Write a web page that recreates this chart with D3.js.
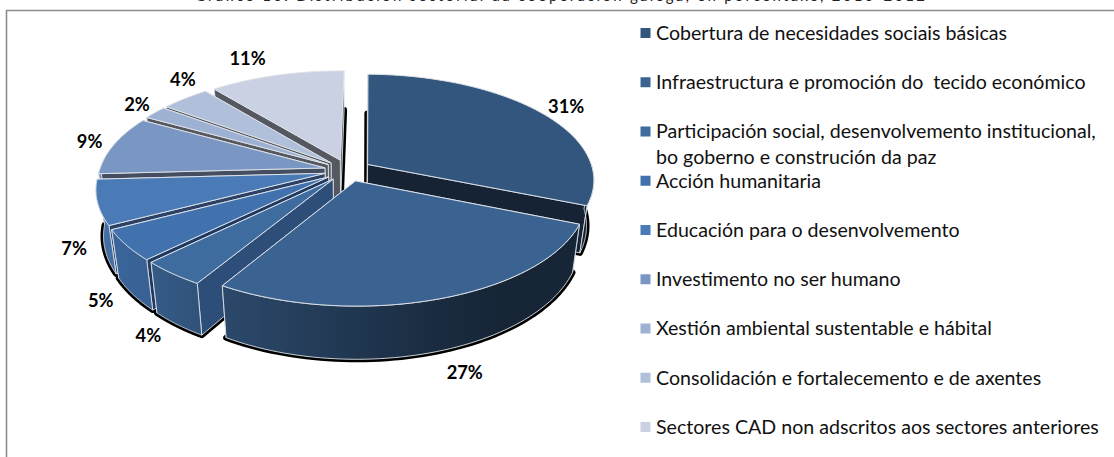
<!DOCTYPE html>
<html><head><meta charset="utf-8">
<script src="https://cdnjs.cloudflare.com/ajax/libs/d3/7.8.5/d3.min.js"></script>
<style>html,body{margin:0;padding:0;background:#fff;overflow:hidden}svg{display:block}</style>
</head><body><svg id="c" width="1114" height="457"></svg>
<script>
const categories = [
  "Cobertura de necesidades sociais básicas",
  "Infraestructura e promoción do\u00a0 tecido económico",
  "Participación social, desenvolvemento institucional,|bo goberno e construción da paz",
  "Acción humanitaria",
  "Educación para o desenvolvemento",
  "Investimento no ser humano",
  "Xestión ambiental sustentable e hábital",
  "Consolidación e fortalecemento e de axentes",
  "Sectores CAD non adscritos aos sectores anteriores"
];
const values = [31, 27.4, 4, 4.7, 6.8, 9, 2, 4, 11.1];
const topColors = ["#33567f","#3b6391","#3f6c9f","#4272ae","#4a7bb7","#7a97c3","#9db1d3","#b0c0da","#c9d1e2"];
const wallColors = ["#152335","#2e4d73","#2d4e78","#1f3a60","#2b4266","#444e60","#565860","#565860","#555860"];
const titleText = "Gráfico 10. Distribución sectorial da cooperación galega, en porcentaxe, 2010-2012";
const labelNudge = [[-5,4],[18,12],[-11,5],[-10,3],[-7,1],[17,1],[14,1],[24,-7],[-18,-2]];

const svg = d3.select("#c");
const W = 1114, H = 457;
const cx = 348, cy = 170.4, a = 225.5, b = 104.4, k = 0.14, depth = 45, taper = 0.03, explode = 0.105, rot = 0.8*Math.PI/180;
const xS = d3.scaleLinear().domain([-1,1]).range([cx-a,cx+a]);
const yS = d3.scaleLinear().domain([-1,1]).range([cy-b,cy+b]);
const proj = (X,Y,z=0) => { const s = 1/(1-k*Y); return [xS(X*s*(1-taper*z)), yS(Y*s)+z*depth*s]; };
const pie = d3.pie().sort(null).value(d=>d).startAngle(rot).endAngle(rot+2*Math.PI)(values);
const line = d3.line().curve(d3.curveLinear);
const defs = svg.append("defs");
const blur = defs.append("filter").attr("id","sb").attr("x","-10%").attr("y","-10%").attr("width","120%").attr("height","120%");
blur.append("feGaussianBlur").attr("stdDeviation",0.6);

svg.append("rect").attr("width",W).attr("height",H).attr("fill","#fff");
svg.append("text").attr("x",195).attr("y",0.5).attr("textLength",730).attr("lengthAdjust","spacing")
  .attr("font-family","Lato").attr("font-size",15).attr("fill","#222").text(titleText);
svg.append("path").attr("d",`M${W+2} 10.5H6.5V${H+2}`).attr("fill","none").attr("stroke","#8c8c8c").attr("stroke-width",1.6);

const slices = pie.map((d,i)=>{
  const m = (d.startAngle+d.endAngle)/2;
  const ox = explode*Math.sin(m), oy = -explode*Math.cos(m);
  const at = (ang,r,z=0)=>proj(ox+r*Math.sin(ang), oy-r*Math.cos(ang), z);
  const arcPts = (a0,a1,z,n=60)=>d3.range(n+1).map(j=>at(a0+(a1-a0)*j/n,1,z));
  return {...d,i,m,ox,oy,at,arcPts};
});

const shadow = svg.append("g").attr("filter","url(#sb)");
slices.forEach(s=>{
  const pts = [s.at(0,0,1),...s.arcPts(s.startAngle,s.endAngle,1)];
  shadow.append("path").attr("d",line(pts)+"Z").attr("fill","#000").attr("stroke","#000").attr("stroke-width",6).attr("stroke-linejoin","round");
});

const shade = d3.scaleLinear().domain([100,220,480]).range([0.92,0.74,0.38]).clamp(true);
slices.forEach(s=>{
  const g = defs.append("linearGradient").attr("id","w"+s.i).attr("gradientUnits","userSpaceOnUse").attr("x1",90).attr("x2",600).attr("y1",0).attr("y2",0);
  d3.range(0,11).forEach(j=>{
    const x = 90+51*j, c = d3.rgb(topColors[s.i]), f = shade(x);
    g.append("stop").attr("offset",j/10).attr("stop-color",d3.rgb(c.r*f,c.g*f,c.b*f).formatHex());
  });
});

const edge = "#dde1e8";
const order = slices.slice().sort((p,q)=>p.oy-q.oy);
const body = svg.append("g").attr("stroke-linejoin","round");
order.forEach(s=>{
  const walls = [s.startAngle,s.endAngle].map(ang=>({ang, y:s.at(ang,0.5)[1]})).sort((p,q)=>p.y-q.y);
  walls.forEach(w=>{
    const pts = [s.at(w.ang,0,0),s.at(w.ang,1,0),s.at(w.ang,1,1),s.at(w.ang,0,1)];
    body.append("path").attr("d",line(pts)+"Z").attr("fill",wallColors[s.i]).attr("stroke",edge).attr("stroke-width",0.9);
  });
  const a0 = Math.max(s.startAngle,Math.PI/2), a1 = Math.min(s.endAngle,1.5*Math.PI);
  if (a1>a0){
    const pts = [...s.arcPts(a0,a1,0),...s.arcPts(a0,a1,1).reverse()];
    body.append("path").attr("d",line(pts)+"Z").attr("fill",`url(#w${s.i})`).attr("stroke",edge).attr("stroke-width",0.9);
  }
  const top = [s.at(0,0,0),...s.arcPts(s.startAngle,s.endAngle,0)];
  body.append("path").attr("d",line(top)+"Z").attr("fill",topColors[s.i]).attr("stroke",edge).attr("stroke-width",1);
});

const labels = svg.append("g").attr("font-family","Lato").attr("font-weight",700).attr("font-size",18.3).attr("fill","#000").attr("text-anchor","middle");
slices.forEach(s=>{
  const front = Math.cos(s.m)<0;
  const p = s.at(s.m, front?1.1:1.2, front?0.9:0);
  labels.append("text").attr("x",p[0]+labelNudge[s.i][0]).attr("y",p[1]+labelNudge[s.i][1]).attr("dy","0.35em").text(d3.format(".0%")(values[s.i]/d3.sum(values)));
});

const rowY = d3.scaleLinear().domain([0,8]).range([33,427]);
const legend = svg.append("g").attr("font-family","Lato").attr("font-size",19.6).attr("fill","#111");
categories.forEach((c,i)=>{
  const y = rowY(i);
  legend.append("rect").attr("x",640.5).attr("y",y-5).attr("width",10).attr("height",10).attr("fill",topColors[i]);
  c.split("|").forEach((t,j)=>{
    legend.append("text").attr("x",656).attr("y",y+26*j).attr("dy","0.35em").text(t);
  });
});
</script></body></html>
